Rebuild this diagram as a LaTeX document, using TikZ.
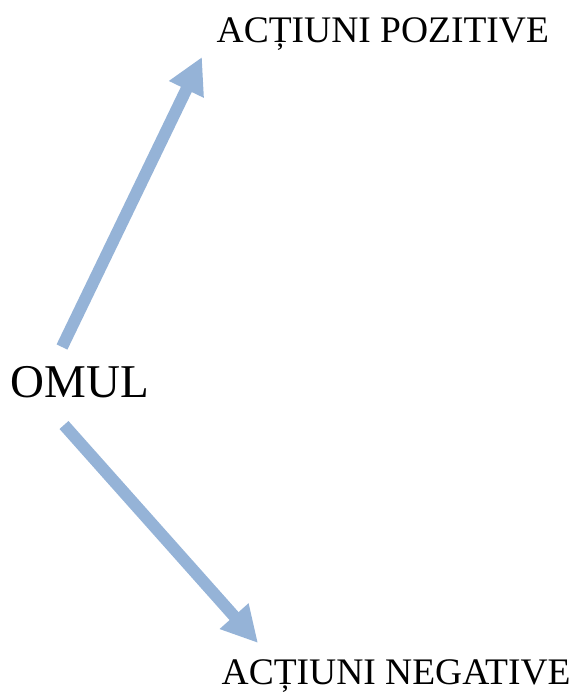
\documentclass[tikz,border=0pt]{standalone}
\usepackage{fontspec}
\setmainfont{Liberation Serif}
\usetikzlibrary{arrows.meta}
\definecolor{arrowblue}{HTML}{95B3D7}
\tikzset{
  label37/.style={inner sep=0pt, anchor=base west, font=\fontsize{37.5}{44}\selectfont},
  bigarrow/.style={draw=arrowblue, line width=12pt, -{Triangle[length=36pt,width=36pt,fill=arrowblue]}}
}
\begin{document}
\begin{tikzpicture}[x=1pt,y=-1pt]
\useasboundingbox (0,0) rectangle (571,693);
\node[label37] (pos) at (216.5,43) {ACȚIUNI POZITIVE};
\node[label37] (neg) at (221.5,684) {ACȚIUNI NEGATIVE};
\node[inner sep=0pt, anchor=base west, font=\fontsize{47}{56}\selectfont] (omul) at (10.5,397) {OMUL};
\coordinate (s1) at (62,347);
\coordinate (t1) at (202,57);
\coordinate (s2) at (64,425);
\coordinate (t2) at (258,643);
\draw[bigarrow] (s1) -- (t1);
\draw[bigarrow] (s2) -- (t2);
\end{tikzpicture}
\end{document}
